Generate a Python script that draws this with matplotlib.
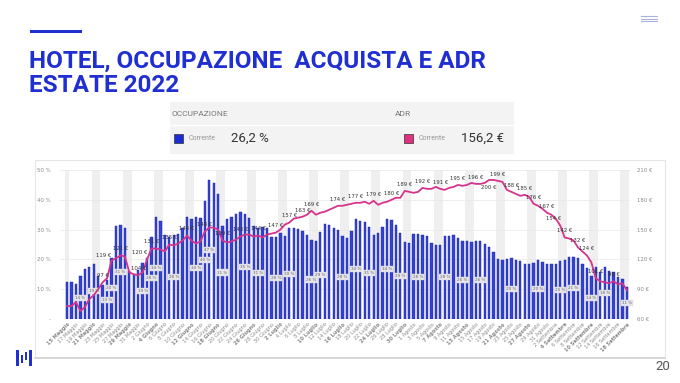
import matplotlib
matplotlib.use("Agg")
import matplotlib.pyplot as plt
import pandas as pd
from matplotlib.patches import Rectangle
from matplotlib.lines import Line2D

# Data
days = pd.date_range("2022-05-15", "2022-09-18", freq="D")
mesi = {5: "Maggio", 6: "Giugno", 7: "Luglio", 8: "Agosto", 9: "Settembre"}

occupazione = [12.3, 12.5, 11.6, 14.4, 16.8, 17.4, 18.6, 14.5, 11.5, 13.0,
               20.5, 31.2, 31.4, 30.4, 16.0, 15.0, 16.5, 18.7, 20.5, 27.6,
               34.1, 33.0, 28.3, 27.6, 28.2, 28.4, 30.4, 34.3, 33.6, 34.3,
               33.8, 39.6, 46.6, 45.5, 41.8, 31.2, 33.6, 34.1, 35.2, 36.0,
               35.1, 34.0, 31.2, 30.6, 31.0, 30.4, 27.6, 27.6, 28.8, 27.7,
               30.4, 30.4, 30.2, 29.6, 28.2, 26.5, 26.2, 29.3, 31.8, 31.5,
               30.4, 29.9, 28.0, 27.3, 29.5, 33.6, 32.9, 32.7, 31.0, 28.2,
               29.0, 31.0, 33.6, 33.2, 31.5, 29.0, 25.7, 25.4, 28.4, 28.4,
               28.2, 28.0, 25.6, 24.8, 25.0, 28.0, 28.0, 28.2, 27.1, 26.3,
               26.3, 25.9, 26.3, 26.2, 25.3, 24.1, 22.5, 20.3, 19.8, 20.3,
               20.4, 19.8, 19.4, 18.6, 18.5, 18.7, 19.9, 19.2, 18.6, 18.5,
               18.5, 19.6, 19.7, 20.7, 20.9, 20.4, 18.4, 17.2, 14.4, 17.6,
               15.9, 17.6, 16.1, 15.7, 14.2, 13.3, 10.8]

adr = [73, 73, 77, 68, 72, 80, 84, 90, 97, 101,
       119, 121, 124, 123, 107, 105, 104, 107, 120, 131,
       131, 130, 128, 135, 134, 136, 139, 144, 139, 136,
       138, 148, 152, 152, 150, 139, 137, 138, 140, 143,
       145, 145, 143, 144, 142, 145, 146, 147, 150, 155,
       157, 161, 162, 163, 165, 169, 165, 167, 168, 170,
       172, 174, 174, 175, 176, 177, 177, 178, 176, 179,
       175, 177, 178, 180, 182, 182, 189, 188, 187, 188,
       192, 191, 191, 193, 191, 190, 192, 193, 195, 194,
       195, 197, 196, 196, 197, 200, 200, 199, 198, 190,
       188, 186, 184, 185, 183, 176, 174, 171, 167, 165,
       161, 154, 142, 141, 139, 132, 128, 124, 117, 101,
       98, 97, 96, 98, 95, 96, 89]

# which points carry a value label
adr_label_idx = [8, 10, 11, 16, 18, 19, 23, 27, 31, 35, 39, 43, 47, 50, 53, 55,
                 61, 65, 69, 73, 76, 80, 84, 88, 92, 95, 97, 100, 103, 105, 108,
                 111, 112, 115, 117, 119, 123]
adr_label_below = [95]
adr_label_shift = {10: (-6, 2), 11: (3, 5), 18: (-5, 3), 111: (-5, 3)}
occ_label_idx = [3, 6, 9, 10, 12, 17, 19, 20, 24, 29, 31, 32, 35, 40, 43, 47, 50,
                 55, 57, 62, 65, 68, 72, 75, 79, 85, 89, 93, 100, 106, 111, 114,
                 118, 121, 126]

occ_media = "26,2 %"
adr_media = "156,2 €"

BLUE = "#1f2fd2"
BAR = "#3343d6"
PINK = "#d6338d"

W, H = 680, 383
fig = plt.figure(figsize=(6.8, 3.83), dpi=100)


def fx(x):
    return x / W


def fy(y):
    return 1 - y / H


# Header
fig.add_artist(Rectangle((fx(30), fy(33)), fx(52), 3 / H, color=BLUE, lw=0,
                         transform=fig.transFigure))
fig.text(fx(29), fy(68), "HOTEL, OCCUPAZIONE  ACQUISTA E ADR", fontsize=17.5,
         weight="bold", color=BLUE, family="Roboto", va="baseline")
fig.text(fx(29), fy(92), "ESTATE 2022", fontsize=17.5, weight="bold",
         color=BLUE, family="Roboto", va="baseline")
for yy in (16, 18.5, 21):
    fig.add_artist(Line2D([fx(641), fx(657)], [fy(yy), fy(yy)], color="#a9b1de",
                          lw=0.8, transform=fig.transFigure))

# Summary box
fig.add_artist(Rectangle((fx(170), fy(154)), fx(344), 52 / H, color="#f3f3f3",
                         lw=0, transform=fig.transFigure))
fig.add_artist(Line2D([fx(170), fx(514)], [fy(125), fy(125)], color="white",
                      lw=1.0, transform=fig.transFigure))
fig.text(fx(172), fy(114), "OCCUPAZIONE", fontsize=6.0, color="#777",
         family="Roboto", va="center")
fig.text(fx(395), fy(114), "ADR", fontsize=6.0, color="#777", family="Roboto",
         va="center")
for x0, col, val in [(174, "#1b2bd6", occ_media), (404, "#e0307f", adr_media)]:
    fig.add_artist(Rectangle((fx(x0), fy(143)), fx(9), 9 / H, facecolor=col,
                             edgecolor="#333", lw=0.5, transform=fig.transFigure))
    fig.text(fx(x0 + 15), fy(138.5), "Corrente", fontsize=5.0, color="#999",
             family="Roboto", va="center")
    fig.text(fx(x0 + 57), fy(138.5), val, fontsize=9.5, color="#333",
             family="Roboto", va="center")

# Chart card (behind the axes)
fig.add_artist(Rectangle((fx(35), fy(357)), fx(630), 197 / H, facecolor="white",
                         edgecolor="#e6e6e6", lw=0.8, zorder=-5,
                         transform=fig.transFigure))
fig.add_artist(Line2D([fx(35), fx(665)], [fy(357.5), fy(357.5)], color="#d2d2d2",
                      lw=1.2, zorder=-4, transform=fig.transFigure))

ax = fig.add_axes([fx(60), fy(319), fx(570), 149 / H])
ax.patch.set_alpha(0)
ax2 = ax.twinx()
x = list(range(len(days)))

for i, d in enumerate(days):
    if d.weekday() >= 5:
        ax.axvspan(i - 0.5, i + 0.5, color="#efefef", lw=0, zorder=0)

ax.bar(x, occupazione, width=0.52, color=BAR, edgecolor="#1c2399", lw=0.3, zorder=2)
for i in occ_label_idx:
    v = occupazione[i]
    ax.text(i, v / 2, f"{round(v)} %", fontsize=3.0, color="#666", ha="center",
            va="center", zorder=4,
            bbox=dict(boxstyle="square,pad=0.25", fc="#e6e6ec", ec="#d0d0d8", lw=0.3))

ax2.plot(x, adr, color=PINK, lw=1.3, zorder=3)
for i in adr_label_idx:
    below = i in adr_label_below
    dx, dy = adr_label_shift.get(i, (0, -4 if below else 3))
    ax2.annotate(f"{adr[i]} €", (i, adr[i]), xytext=(dx, dy),
                 textcoords="offset points", ha="center",
                 va="top" if below else "bottom", fontsize=3.9, color="#333")

ax.set_xlim(-1.6, len(days) - 0.3)
ax.set_ylim(0, 50)
ax2.set_ylim(60, 210)
ax.set_yticks(range(0, 51, 10))
ax.set_yticklabels(["-"] + [f"{v} %" for v in range(10, 51, 10)])
ax2.set_yticks(range(60, 211, 30))
ax2.set_yticklabels([f"{v} €" for v in range(60, 211, 30)])
ax.grid(axis="y", color="#e8e8e8", lw=0.5, zorder=1)
ax.set_axisbelow(True)

ticks = x[::2]
ax.set_xticks(ticks)
labels = ax.set_xticklabels([f"{days[i].day} {mesi[days[i].month]}" for i in ticks],
                            rotation=45, ha="right", rotation_mode="anchor")
for i, lab in zip(ticks, labels):
    if days[i].weekday() >= 5:
        lab.set_fontweight("bold")
        lab.set_color("#555")
    else:
        lab.set_color("#aaa")

for a in (ax, ax2):
    for s in a.spines.values():
        s.set_visible(False)
    a.tick_params(length=0, labelsize=3.9, colors="#888")
ax.tick_params(axis="y", pad=7)
ax2.tick_params(axis="y", pad=5)
ax.tick_params(axis="x", pad=2)
for lab in ax.get_xticklabels():
    lab.set_fontsize(3.6)

# Footer
for x0, y0, w, h in [(16, 350, 3, 16), (21, 355, 2, 8), (25, 352, 2, 8), (29, 350, 3, 16)]:
    fig.add_artist(Rectangle((fx(x0), fy(y0 + h)), fx(w), h / H, color=BLUE, lw=0,
                             transform=fig.transFigure))
fig.text(fx(670), fy(366), "20", fontsize=9.5, color="#555", ha="right",
         va="center", family="Roboto")

fig.savefig("out.png", dpi=100)
